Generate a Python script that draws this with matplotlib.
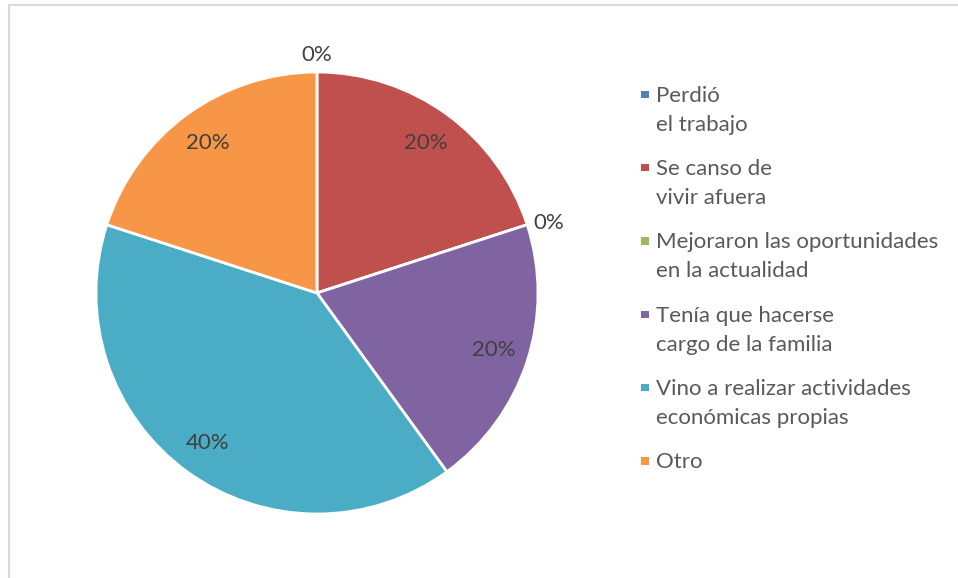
import numpy as np
import matplotlib.pyplot as plt
from matplotlib.patches import Rectangle

categories = [
    "Perdió\nel trabajo",
    "Se canso de\nvivir afuera",
    "Mejoraron las oportunidades\nen la actualidad",
    "Tenía que hacerse\ncargo de la familia",
    "Vino a realizar actividades\neconómicas propias",
    "Otro",
]
values = [0, 20, 0, 20, 40, 20]
colors = ["#4F81BD", "#C0504D", "#9BBB59", "#8064A2", "#4BACC6", "#F79646"]

plt.rcParams["font.family"] = ["Lato", "DejaVu Sans"]

W, H = 958, 578
fig = plt.figure(figsize=(W / 100, H / 100), dpi=100)

# chart area border (only left and top visible in the crop)
fig.patches.append(Rectangle((8.5 / W, -0.1), 1.2, 1.1 - 5.5 / H,
                             transform=fig.transFigure, fill=False,
                             edgecolor="#D9D9D9", linewidth=1.5))

cx, cy, r = 317, 293, 221
ax = fig.add_axes([(cx - r) / W, (H - cy - r) / H, 2 * r / W, 2 * r / H])
wedges, _ = ax.pie(values, colors=colors, startangle=90, counterclock=False,
                   radius=1, wedgeprops=dict(edgecolor="white", linewidth=2))
ax.set_xlim(-1, 1)
ax.set_ylim(-1, 1)
ax.set_aspect("equal")
ax.axis("off")

total = sum(values)
for w, v in zip(wedges, values):
    mid = np.deg2rad((w.theta1 + w.theta2) / 2)
    c, s = np.cos(mid), np.sin(mid)
    txt = f"{v / total * 100:.0f}%"
    if v > 0:
        ax.text(0.84 * c, 0.84 * s, txt, ha="center", va="center",
                fontsize=16, color="#404040")
    else:
        # empty slices: label just outside the rim
        ha = "center" if abs(c) < 0.5 else ("left" if c > 0 else "right")
        va = "center" if abs(s) < 0.5 else ("bottom" if s > 0 else "top")
        ax.text(1.03 * c, 1.03 * s, txt, ha=ha, va=va, fontsize=16,
                color="#404040", clip_on=False)

# legend, marker aligned with first line like Excel
for i, (lab, col) in enumerate(zip(categories, colors)):
    y0 = 101.7 + i * 73.3
    fig.patches.append(Rectangle((641 / W, 1 - (y0 - 3.5) / H), 7.5 / W, 7.5 / H,
                                 transform=fig.transFigure, facecolor=col,
                                 edgecolor="none"))
    for j, line in enumerate(lab.split("\n")):
        fig.text(656 / W, 1 - (y0 + j * 29) / H, line, fontsize=16,
                 color="#595959", va="baseline", ha="left")

fig.savefig("out.png", dpi=100)
